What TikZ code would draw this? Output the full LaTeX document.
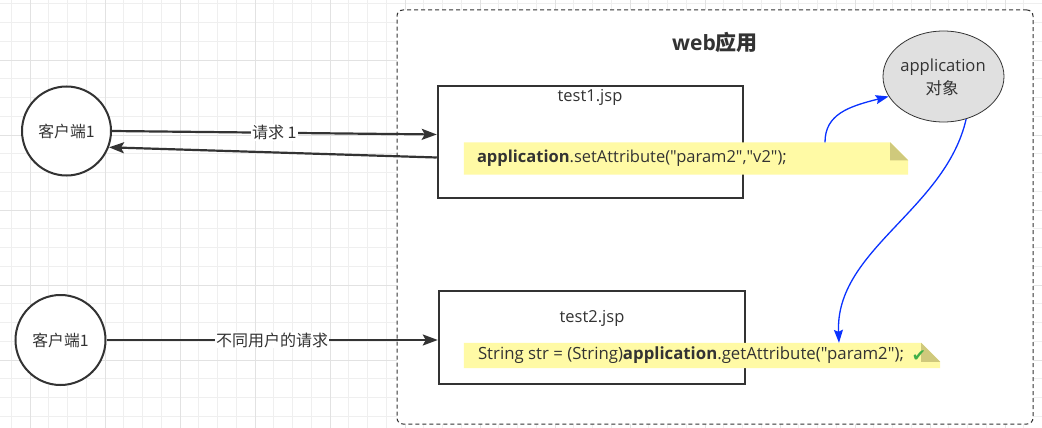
\documentclass[tikz,border=0pt]{standalone}
\usepackage{fontspec}
\setmainfont{Open Sans}[Ligatures=TeXOff]
\newfontfamily\cjk{Noto Sans CJK SC}
\newfontfamily\symf{DejaVu Sans}
\usetikzlibrary{arrows.meta,shapes.geometric}
\definecolor{ink}{HTML}{333333}
\definecolor{gridminor}{HTML}{EFEFEF}
\definecolor{gridmajor}{HTML}{E2E2E2}
\definecolor{notefill}{HTML}{FFFAA5}
\definecolor{notefold}{HTML}{CFC97C}
\definecolor{linkblue}{HTML}{0A32FF}
\definecolor{appfill}{HTML}{E0E0E0}
\definecolor{okgreen}{HTML}{3FAF48}
\begin{document}
\begin{tikzpicture}[x=1pt,y=-1pt,
  txt/.style={text=ink, font=\fontsize{16.5}{19}\selectfont, inner sep=0pt},
  client/.style={circle, draw=ink, line width=2pt, fill=white, inner sep=0pt, text=ink, font=\cjk\fontsize{15.8}{18}\selectfont},
  jsp/.style={rectangle, draw=ink, line width=2.5pt, fill=white, inner sep=0pt},
  darrow/.style={draw=ink, line width=2.2pt, -{Stealth[length=15pt,width=11pt,inset=3pt]}},
  barrow/.style={draw=linkblue, line width=1.3pt, -{Stealth[length=13pt,width=9pt,inset=2pt]}},
  elabel/.style={fill=white, text=ink, inner sep=1pt, font=\cjk\fontsize{16}{18}\selectfont},
  notebg/.style={inner sep=0pt},
  container/.style={draw=ink, line width=1pt, dash pattern=on 4pt off 3pt, fill=white, rounded corners=6pt, inner sep=0pt}
]
\useasboundingbox (0,0) rectangle (1042,428);
\fill[white] (0,0) rectangle (1042,428);
% grid
\foreach \i in {0,...,55} { \draw[gridminor, line width=0.8pt] ({11.25+18.75*\i},0) -- ++(0,428); }
\foreach \i in {0,...,22} { \draw[gridminor, line width=0.8pt] (0,{3.75+18.75*\i}) -- ++(1042,0); }
\foreach \i in {0,...,13} { \draw[gridmajor, line width=0.8pt] ({30+75*\i},0) -- ++(0,428); }
\foreach \i in {0,...,4} { \draw[gridmajor, line width=0.8pt] (0,{60+75*\i}) -- ++(1042,0); }

% container
\node[container, minimum width=636pt, minimum height=414pt] (web) at (715,217) {};
\node[txt, font=\fontsize{21}{24}\selectfont\bfseries] (title) at (715,42) {web{\cjk 应用}};

% jsp boxes
\node[jsp, minimum width=305pt, minimum height=112pt] (t1) at (590.5,142) {};
\node[txt, font=\fontsize{16.5}{19}\selectfont] (t1l) at (590,97) {test1.jsp};
\node[jsp, minimum width=306pt, minimum height=93pt] (t2) at (592,337.5) {};
\node[txt, font=\fontsize{16.5}{19}\selectfont] (t2l) at (592,318) {test2.jsp};

% note 1
\node[notebg, minimum width=444pt, minimum height=32pt] (n1) at (686,158.5) {};
\fill[notefill] (n1.south west) -- (n1.north west) -- ([xshift=-18pt]n1.north east) -- ([yshift=-18pt]n1.north east) -- (n1.south east) -- cycle;
\fill[notefold] ([xshift=-18pt]n1.north east) -- ([yshift=-18pt]n1.north east) -- ([xshift=-18pt,yshift=-18pt]n1.north east) -- cycle;
\node[txt, anchor=west] (n1t) at ([xshift=13pt]n1.west) {\textbf{application}.setAttribute("param2","v2");};

% note 2
\node[notebg, minimum width=476pt, minimum height=25pt] (n2) at (702,355.5) {};
\fill[notefill] (n2.south west) -- (n2.north west) -- ([xshift=-19pt]n2.north east) -- ([yshift=-19pt]n2.north east) -- (n2.south east) -- cycle;
\fill[notefold] ([xshift=-19pt]n2.north east) -- ([yshift=-19pt]n2.north east) -- ([xshift=-19pt,yshift=-19pt]n2.north east) -- cycle;
\node[txt, anchor=west, font=\fontsize{16.8}{19}\selectfont] (n2t) at ([xshift=14pt]n2.west) {String str = (String)\textbf{application}.getAttribute("param2");};
\node[inner sep=0pt, text=okgreen, font=\symf\fontsize{17}{17}\selectfont] (ok) at (919,356) {✔};

% application object
\node[ellipse, draw=ink, line width=0.8pt, fill=appfill, minimum width=121pt, minimum height=91pt, inner sep=0pt] (app) at (943.5,76.5) {};
\node[txt, font=\fontsize{16.6}{19}\selectfont] (appl1) at (943,67) {application};
\node[txt, font=\cjk\fontsize{16.5}{19}\selectfont] (appl2) at (942,88) {对象};

% clients
\node[client, minimum size=89pt] (c1) at (66.5,131) {客户端1};
\node[client, minimum size=90pt] (c2) at (60.5,340) {客户端1};

% connectors
\draw[darrow] (c1.east) -- node[elabel] (lab1) {请求 1} ([yshift=7.5pt]t1.west);
\draw[darrow] ([yshift=-15.5pt]t1.west) -- (c1.-21);
\draw[darrow] (c2.east) -- node[elabel] (lab2) {不同用户的请求} (t2.west |- c2.east);
\draw[barrow] ([xshift=139pt]n1.north) .. controls +(0,-28) and +(-40,10) .. (app.200);
\draw[barrow] (app.-62) .. controls +(-21,91) and +(-4,-93) .. ([xshift=137pt]n2.north);
\end{tikzpicture}
\end{document}
